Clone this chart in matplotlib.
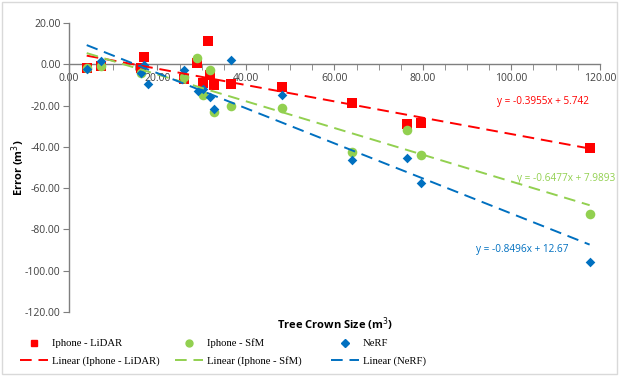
import matplotlib
matplotlib.use("Agg")
import matplotlib.pyplot as plt
from matplotlib.lines import Line2D
from matplotlib.patches import Rectangle
from matplotlib.ticker import MultipleLocator, FormatStrFormatter
import numpy as np

# ---- data ----
lidar_x = [4.0, 7.2, 16.2, 16.9, 26.0, 29.0, 30.3, 31.4, 31.9, 32.8, 36.7, 48.1, 64.0, 76.3, 79.5, 117.7]
lidar_y = [-1.6, -0.8, -1.6, 3.4, -7.3, 0.6, -9.3, 11.4, -5.3, -10.1, -9.7, -11.0, -19.0, -28.7, -28.3, -40.4]

sfm_x = [4.0, 7.2, 16.2, 26.0, 29.0, 30.3, 31.9, 32.8, 36.7, 48.1, 64.0, 76.3, 79.5, 117.7]
sfm_y = [-1.6, -0.8, -4.2, -6.1, 3.2, -15.0, -2.6, -23.0, -20.2, -21.4, -42.4, -31.6, -44.1, -72.6]

nerf_x = [4.0, 7.2, 16.2, 16.9, 17.9, 26.0, 29.2, 30.3, 31.9, 32.8, 36.7, 48.1, 64.0, 76.3, 79.5, 117.7]
nerf_y = [-2.1, 1.7, -4.0, -0.5, -9.8, -2.6, -13.0, -12.2, -15.8, -21.5, 1.9, -15.0, -46.4, -45.6, -57.3, -95.8]

# trend line coefficients (slope, intercept) as shown on the chart
lidar_fit = (-0.3955, 5.742)
sfm_fit = (-0.6477, 7.9893)
nerf_fit = (-0.8496, 12.67)

series_names = ["Iphone - LiDAR", "Iphone - SfM", "NeRF"]
eq_labels = ["y = -0.3955x + 5.742", "y = -0.6477x + 7.9893", "y = -0.8496x + 12.67"]
eq_pos = [(96.7, -17.9), (101.3, -55.1), (92.0, -89.9)]

red, green, blue = "#FF0000", "#92D050", "#0070C0"

fig = plt.figure(figsize=(6.19, 3.76), dpi=100)
fig.patches.append(Rectangle((0.004, 0.006), 0.992, 0.99, transform=fig.transFigure,
                             fill=False, edgecolor="#d9d9d9", linewidth=1.0))
ax = fig.add_axes([0.1115, 0.170, 0.8575, 0.769])

sans = ["Open Sans", "DejaVu Sans"]

ax.scatter(lidar_x, lidar_y, marker="s", s=44, color=red, zorder=3, linewidths=0)
ax.scatter(sfm_x, sfm_y, marker="o", s=48, color=green, zorder=3, linewidths=0)
ax.scatter(nerf_x, nerf_y, marker="D", s=24, color=blue, zorder=3, linewidths=0)

for xs, fit, c in [(lidar_x, lidar_fit, red), (sfm_x, sfm_fit, green), (nerf_x, nerf_fit, blue)]:
    xx = np.array([min(xs), max(xs)])
    ax.plot(xx, fit[0] * xx + fit[1], color=c, lw=1.4, dashes=(6, 3.5), zorder=4)

for (tx, ty), t, c in zip(eq_pos, eq_labels, [red, green, blue]):
    ax.text(tx, ty, t, color=c, fontsize=7.2, va="center", ha="left", family=sans, clip_on=False)

ax.set_xlim(0, 120)
ax.set_ylim(-120, 20)
ax.spines["top"].set_visible(False)
ax.spines["right"].set_visible(False)
ax.spines["bottom"].set_position(("data", 0))
for s in ["left", "bottom"]:
    ax.spines[s].set_color("#7f7f7f")
    ax.spines[s].set_linewidth(1.0)

ax.xaxis.set_major_locator(MultipleLocator(20))
ax.xaxis.set_minor_locator(MultipleLocator(5))
ax.yaxis.set_major_locator(MultipleLocator(20))
ax.xaxis.set_major_formatter(FormatStrFormatter("%.2f"))
ax.yaxis.set_major_formatter(FormatStrFormatter("%.2f"))
ax.tick_params(axis="both", which="both", direction="out", length=4, color="#7f7f7f",
               labelsize=7.5, labelcolor="#404040", pad=2)
for lab in ax.get_xticklabels() + ax.get_yticklabels():
    lab.set_family(sans)

fig.text(0.029, 0.555, "Error (m$^3$)", rotation=90, ha="center", va="center",
         fontsize=8, fontweight="bold", family=sans)
fig.text(0.541, 0.138, "Tree Crown Size (m$^3$)", ha="center", va="center",
         fontsize=8, fontweight="bold", family=sans)

cols = [
    (red, "s", 5, series_names[0], 20),
    (green, "o", 5, series_names[1], 175),
    (blue, "D", 4, series_names[2], 331),
]
for c, m, ms, name, xpx in cols:
    hs = [Line2D([], [], ls="none", marker=m, color=c, markersize=ms),
          Line2D([], [], color=c, lw=1.4, dashes=(6, 3.5))]
    ls = [name, "Linear (" + name + ")"]
    leg = fig.legend(hs, ls, loc="center left", bbox_to_anchor=(xpx / 619, 0.0625),
                     frameon=False, prop={"family": "Liberation Serif", "size": 7.7},
                     handlelength=2.6, labelspacing=0.75, handletextpad=0.35,
                     borderpad=0, borderaxespad=0)

fig.savefig("out.png", dpi=100)
